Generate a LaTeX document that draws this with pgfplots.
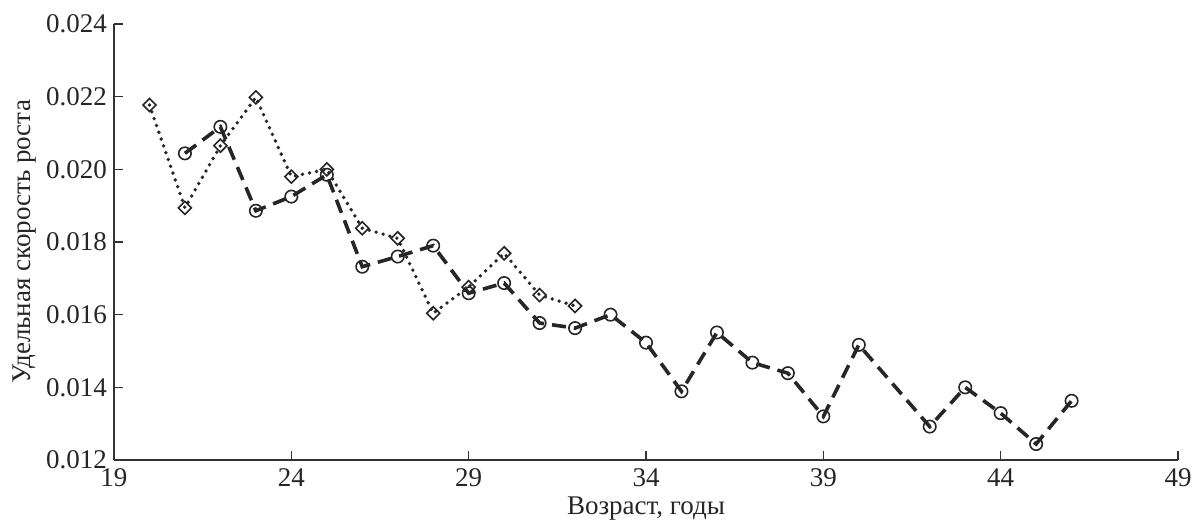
\documentclass[border=0pt]{standalone}
\usepackage{pgfplots}
\pgfplotsset{compat=1.18}
\usetikzlibrary{calc}
\usepackage{fontspec}
\setmainfont{Liberation Serif}
\begin{document}
\begin{tikzpicture}
\begin{axis}[
  scale only axis,
  width=532pt, height=218pt,
  xmin=19, xmax=49, ymin=0.012, ymax=0.024,
  xtick={19,24,29,34,39,44,49},
  ytick={0.012,0.014,0.016,0.018,0.020,0.022,0.024},
  axis lines*=left,
  axis line style={line width=0.9pt, black!80},
  tick align=inside,
  major tick length=4.5pt,
  tick style={line width=0.8pt, black!80},
  /pgf/number format/assume math mode=true,
  yticklabel style={/pgf/number format/fixed, /pgf/number format/fixed zerofill, /pgf/number format/precision=3},
  scaled y ticks=false,
  tick label style={font=\fontsize{13.5}{15}\selectfont, text=black!85},
  xticklabel style={yshift=-1pt},
  label style={font=\fontsize{13.5}{15}\selectfont, text=black!85},
  xlabel={Возраст, годы},
  ylabel={Удельная скорость роста},
  xlabel style={at={(axis description cs:0.5,0)}, anchor=center, yshift=-24.5pt},
  ylabel style={at={(axis description cs:-0.0845,0.5)}, anchor=center, rotate=0},
  clip=false,
]
\addplot[black!85, line width=1.9pt, dash pattern=on 0pt off 3.6pt, line cap=round,
  mark=square, mark size=2.3pt, mark options={rotate=45, solid, line width=0.8pt, line cap=butt}]
coordinates {
(20,0.02177) (21,0.01894) (22,0.02065) (23,0.02198) (24,0.01980)
(25,0.02000) (26,0.01838) (27,0.01810) (28,0.01604) (29,0.01676)
(30,0.01769) (31,0.01654) (32,0.01624)
};
\addplot[black!85, line width=1.8pt, dash pattern=on 7pt off 4pt,
  mark=o, mark size=3.1pt, mark options={solid, line width=0.8pt}]
coordinates {
(21,0.02044) (22,0.02117) (23,0.01886) (24,0.01925) (25,0.01985)
(26,0.01732) (27,0.01760) (28,0.01790) (29,0.01659) (30,0.01687)
(31,0.01577) (32,0.01563) (33,0.01600) (34,0.01523) (35,0.01389)
(36,0.01551) (37,0.01468) (38,0.01439) (39,0.01320) (40,0.01517)
(42,0.01292) (43,0.01400) (44,0.01329) (45,0.01244) (46,0.01363)
};
\coordinate (ll) at (rel axis cs:0,0);
\coordinate (ur) at (rel axis cs:1,1);
\end{axis}
\pgfresetboundingbox
\path[use as bounding box] ($(ll)+(-57pt,-30.5pt)$) rectangle ($(ur)+(7pt,12pt)$);
\end{tikzpicture}
\end{document}
